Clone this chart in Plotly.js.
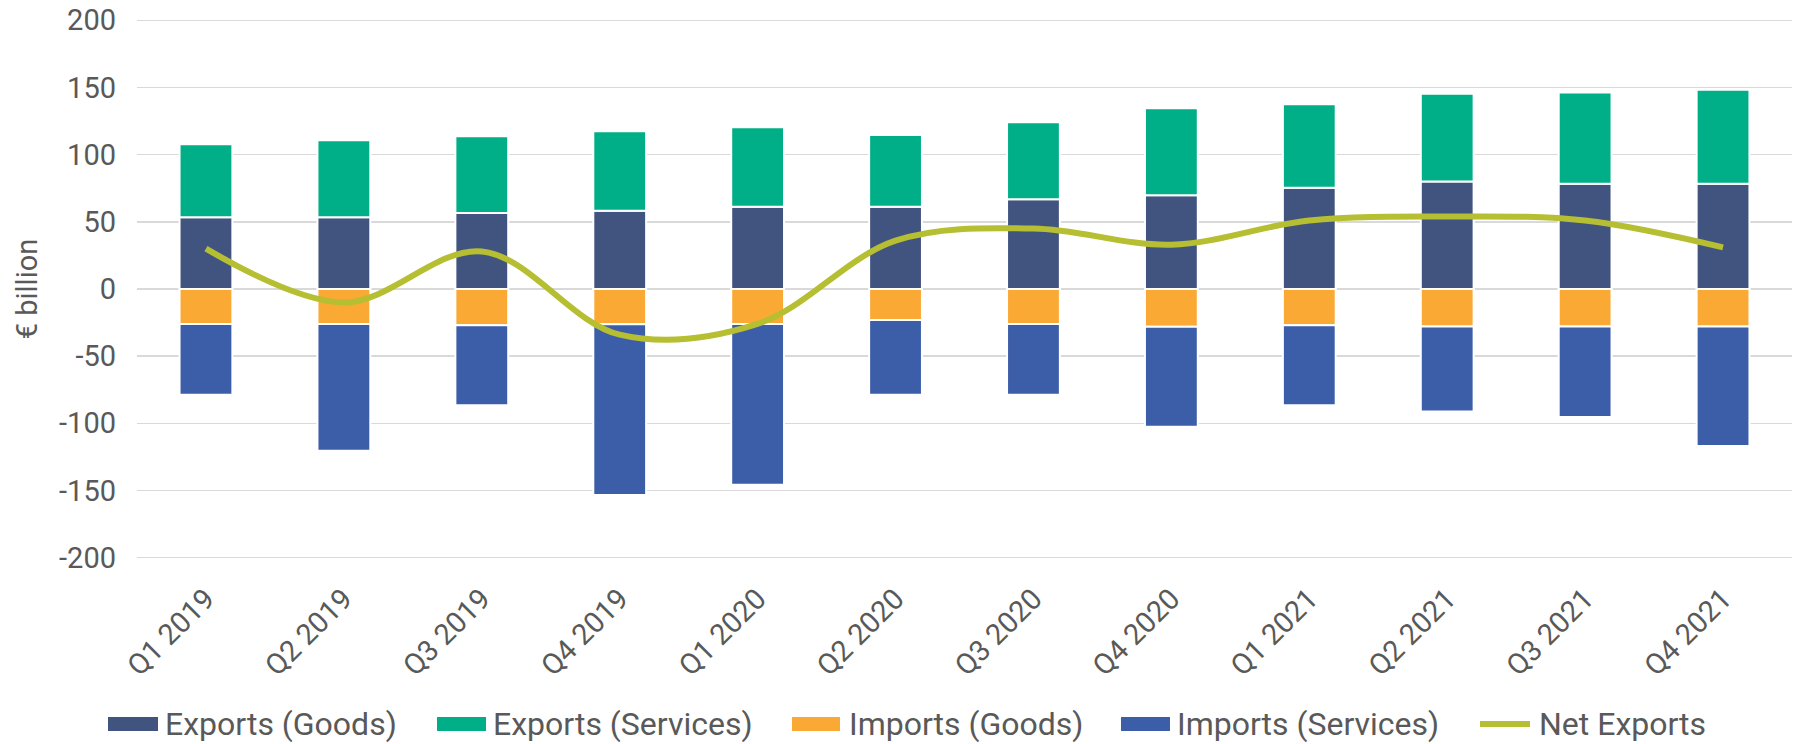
<!DOCTYPE html>
<html>
<head>
<meta charset="utf-8">
<script src="https://cdn.plot.ly/plotly-3.0.1.min.js"></script>
<style>html,body{margin:0;padding:0;background:#fff;}#chart{width:1806px;height:744px;}</style>
</head>
<body>
<div id="chart"></div>
<script>
const categories = ["Q1 2019","Q2 2019","Q3 2019","Q4 2019","Q1 2020","Q2 2020","Q3 2020","Q4 2020","Q1 2021","Q2 2021","Q3 2021","Q4 2021"];
const exportsGoods = [53.5, 53.5, 56.5, 58.2, 61.2, 61.2, 66.9, 69.7, 75.4, 80.1, 78.4, 78.4];
const exportsServices = [54.2, 57.2, 57.2, 59.2, 59.2, 53.5, 57.2, 64.9, 62.2, 65.2, 67.9, 69.9];
const importsGoods = [-26.1, -26.0, -27.0, -26.2, -26.1, -23.1, -26.1, -28.1, -26.9, -27.9, -27.9, -27.9];
const importsServices = [-52.7, -94.5, -59.5, -127.1, -119.7, -55.7, -52.7, -74.5, -59.6, -63.3, -67.3, -88.9];
const netExports = [30, -10, 28, -34, -26, 36, 45, 33, 51, 54, 51, 31];
const yTicks = [-200, -150, -100, -50, 0, 50, 100, 150, 200];

const textColor = '#595959';
const fontFam = 'Roboto, Arial, sans-serif';
const W = 1806, H = 744;
const M = {l: 137, r: 14, t: 19, b: 185};
const plotW = W - M.l - M.r, plotH = H - M.t - M.b;
const px2x = px => (px - M.l) / plotW;
const py2y = py => (H - M.b - py) / plotH;

const colors = {
  'Exports (Goods)': '#41547F',
  'Exports (Services)': '#00AF87',
  'Imports (Goods)': '#FAA934',
  'Imports (Services)': '#3C5DA8',
  'Net Exports': '#B6BE32'
};

function barTrace(name, y) {
  return {
    type: 'bar', name: name, x: categories, y: y,
    marker: {color: colors[name], line: {color: '#ffffff', width: 2}},
    hoverinfo: 'name+y'
  };
}

const data = [
  barTrace('Exports (Goods)', exportsGoods),
  barTrace('Exports (Services)', exportsServices),
  barTrace('Imports (Goods)', importsGoods),
  barTrace('Imports (Services)', importsServices),
  {
    type: 'scatter', mode: 'lines', name: 'Net Exports', x: categories, y: netExports,
    line: {color: colors['Net Exports'], width: 6, shape: 'spline', smoothing: 1}
  }
];

// custom legend (pixel placement of swatch and label)
const legendSpec = [
  {name: 'Exports (Goods)', s0: 108, s1: 158, tx: 164, kind: 'rect'},
  {name: 'Exports (Services)', s0: 437, s1: 486, tx: 492, kind: 'rect'},
  {name: 'Imports (Goods)', s0: 792, s1: 840, tx: 848, kind: 'rect'},
  {name: 'Imports (Services)', s0: 1121, s1: 1170, tx: 1176, kind: 'rect'},
  {name: 'Net Exports', s0: 1480, s1: 1530, tx: 1538, kind: 'line'}
];
const legY = 724, swH = 14;
const shapes = [], annotations = [];
legendSpec.forEach(it => {
  if (it.kind === 'rect') {
    shapes.push({type: 'rect', xref: 'paper', yref: 'paper',
      x0: px2x(it.s0), x1: px2x(it.s1), y0: py2y(legY - swH / 2), y1: py2y(legY + swH / 2),
      fillcolor: colors[it.name], line: {width: 0}});
  } else {
    shapes.push({type: 'line', xref: 'paper', yref: 'paper',
      x0: px2x(it.s0), x1: px2x(it.s1), y0: py2y(legY), y1: py2y(legY),
      line: {color: colors[it.name], width: 6}});
  }
  annotations.push({xref: 'paper', yref: 'paper', x: px2x(it.tx), y: py2y(legY),
    xanchor: 'left', yanchor: 'middle', showarrow: false, text: it.name,
    font: {family: fontFam, size: 32, color: textColor}, borderpad: 0});
});

const layout = {
  width: W, height: H,
  margin: M,
  paper_bgcolor: '#ffffff', plot_bgcolor: '#ffffff',
  font: {family: fontFam, color: textColor, size: 29},
  barmode: 'relative',
  bargap: 0.617,
  showlegend: false,
  shapes: shapes,
  annotations: annotations,
  xaxis: {
    type: 'category', tickangle: -45, showgrid: false, zeroline: false, showline: false,
    ticks: '', tickfont: {family: fontFam, size: 29, color: textColor},
    ticklabelstandoff: 16, automargin: false
  },
  yaxis: {
    range: [-201, 201], tickvals: yTicks, ticktext: yTicks.map(String),
    showgrid: true, gridcolor: '#D9D9D9', gridwidth: 1.5,
    zeroline: true, zerolinecolor: '#D9D9D9', zerolinewidth: 1.5,
    showline: false, ticks: '', automargin: false,
    tickfont: {family: fontFam, size: 29, color: textColor},
    ticklabelstandoff: 20,
    title: {text: '€ billion', font: {family: fontFam, size: 29, color: textColor}, standoff: 12}
  }
};

Plotly.newPlot('chart', data, layout, {displayModeBar: false, staticPlot: true});
</script>
</body>
</html>
